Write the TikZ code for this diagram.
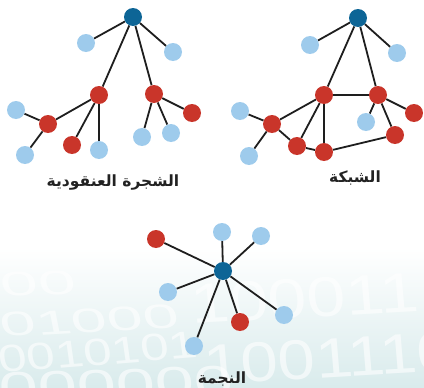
\documentclass[tikz,border=0pt]{standalone}
\usepackage{fontspec}
\newfontfamily\arabicfont[Script=Arabic]{DejaVu Sans}
\newfontfamily\digitfont{Liberation Sans}
\TeXXeTstate=1
\definecolor{hubblue}{HTML}{0D6596}
\definecolor{leafblue}{HTML}{9ECBEC}
\definecolor{nodered}{HTML}{C9352A}
\definecolor{linkgray}{HTML}{1E1E1E}
\definecolor{mist}{HTML}{D9EBEC}
\definecolor{labelgray}{HTML}{222222}
\pgfdeclarelayer{back}
\pgfdeclarelayer{links}
\pgfsetlayers{back,links,main}
\tikzset{
  dot/.style={circle, minimum size=18pt, inner sep=0pt, draw=none},
  hub/.style={dot, fill=hubblue},
  leaf/.style={dot, fill=leafblue},
  knot/.style={dot, fill=nodered},
  link/.style={draw=linkgray, line width=1.8pt},
  caption/.style={text=labelgray, font=\arabicfont\bfseries\fontsize{15.5}{17}\selectfont, inner sep=0pt},
  bits/.style={text=white, opacity=0.6, inner sep=0pt, anchor=base west},
  bitsize/.style={font=\digitfont\fontsize{#1}{#1}\selectfont}
}
\begin{document}
\begin{tikzpicture}[x=1pt, y=-1pt]
\useasboundingbox (0,0) rectangle (424,388);

% soft background band with rows of binary digits
\begin{pgfonlayer}{back}
  \shade[top color=white, bottom color=mist] (0,248) rectangle (424,388);
  \node[bits, bitsize=34, xscale=2.0, rotate=5] (bitsA)  at (2,297)   {00};
  \node[bits, bitsize=34, xscale=1.9, rotate=6] (bitsB)  at (2,337)   {01000};
  \node[bits, bitsize=56, xscale=1.25, rotate=4] (bitsC) at (192,324) {100011};
  \node[bits, bitsize=38, xscale=1.35, rotate=6] (bitsD) at (0,373)   {0010101};
  \node[bits, bitsize=44, xscale=1.6, rotate=3] (bitsE)  at (0,404)   {000000};
  \node[bits, bitsize=56, xscale=1.2, rotate=4] (bitsF)  at (205,385) {1001110};
\end{pgfonlayer}

% cluster tree
\node[hub]  (t0) at (133,17) {};
\node[leaf] (t1) at (86,43) {};
\node[leaf] (t2) at (173,52) {};
\node[knot] (ta) at (99,95) {};
\node[knot] (tb) at (154,94) {};
\node[knot] (tc) at (48,124) {};
\node[leaf] (t3) at (16,110) {};
\node[leaf] (t4) at (25,155) {};
\node[knot] (td) at (72,145) {};
\node[leaf] (te) at (99,150) {};
\node[knot] (tf) at (192,113) {};
\node[leaf] (tg) at (142,137) {};
\node[leaf] (th) at (171,133) {};
\node[caption] (tlabel) at (113,183) {\beginR الشجرة العنقودية\endR};

% mesh network
\node[hub]  (n0) at (358,18) {};
\node[leaf] (n1) at (310,45) {};
\node[leaf] (n2) at (397,53) {};
\node[knot] (np) at (324,95) {};
\node[knot] (nq) at (378,95) {};
\node[knot] (nr) at (414,113) {};
\node[leaf] (ns) at (366,122) {};
\node[knot] (nt) at (395,135) {};
\node[knot] (nu) at (272,124) {};
\node[leaf] (n3) at (240,111) {};
\node[leaf] (n4) at (249,156) {};
\node[knot] (nv) at (297,146) {};
\node[knot] (nw) at (324,152) {};
\node[caption] (nlabel) at (355,178) {\beginR الشبكة\endR};

% star
\node[hub]  (s0) at (223,271) {};
\node[knot] (s1) at (156,239) {};
\node[leaf] (s2) at (222,232) {};
\node[leaf] (s3) at (261,236) {};
\node[leaf] (s4) at (168,292) {};
\node[knot] (s5) at (240,322) {};
\node[leaf] (s6) at (284,315) {};
\node[leaf] (s7) at (194,346) {};
\node[caption] (slabel) at (222,379) {\beginR النجمة\endR};

\begin{pgfonlayer}{links}
  \path[link] (t0) -- (t1) (t0) -- (t2) (t0) -- (ta) (t0) -- (tb)
              (ta) -- (tc) (ta) -- (td) (ta) -- (te)
              (tc) -- (t3) (tc) -- (t4)
              (tb) -- (tf) (tb) -- (tg) (tb) -- (th);
  \path[link] (n0) -- (n1) (n0) -- (n2) (n0) -- (np) (n0) -- (nq)
              (np) -- (nq) (nq) -- (nr) (nq) -- (ns) (nq) -- (nt)
              (nt) -- (nw) (np) -- (nw) (np) -- (nv) (np) -- (nu)
              (nu) -- (n3) (nu) -- (n4) (nu) -- (nv) (nv) -- (nw);
  \path[link] (s0) -- (s1) (s0) -- (s2) (s0) -- (s3) (s0) -- (s4)
              (s0) -- (s5) (s0) -- (s6) (s0) -- (s7);
\end{pgfonlayer}
\end{tikzpicture}
\end{document}
